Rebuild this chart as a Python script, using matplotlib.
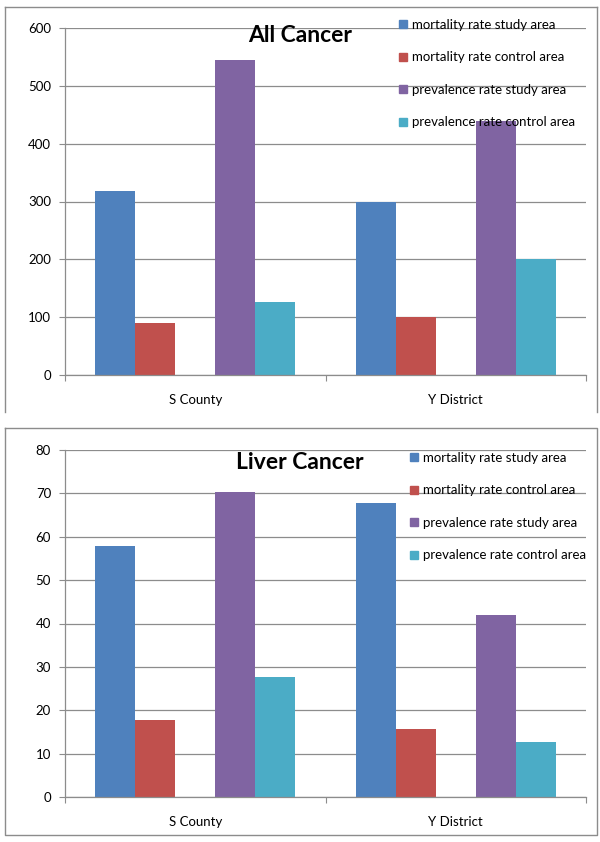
import numpy as np
import matplotlib.pyplot as plt
from matplotlib.lines import Line2D

plt.rcParams['font.family'] = ['Lato', 'DejaVu Sans']

categories = ["S County", "Y District"]
series = ["mortality rate study area", "mortality rate control area",
          "prevalence rate study area", "prevalence rate control area"]
colors = ["#4F81BD", "#C0504D", "#8064A2", "#4BACC6"]

all_cancer = [[318, 300], [90, 100], [544, 440], [127, 200]]
liver_cancer = [[57.8, 67.8], [17.7, 15.6], [70.3, 41.9], [27.7, 12.7]]

W, H = 600, 842
fig = plt.figure(figsize=(6, 8.42), dpi=100)


def fx(px):
    return px / W


def fy(py):
    return 1 - py / H


def panel(rect, title, data, ymax, step, leg_x, leg_y0, title_y):
    l, t, r, b = rect
    ax = fig.add_axes([fx(l), fy(b), fx(r) - fx(l), fy(t) - fy(b)])
    w = 40 / 260
    offsets = [-2, -1, 1, 2]
    x = np.arange(len(categories))
    for vals, off, c, lab in zip(data, offsets, colors, series):
        ax.bar(x + off * w, vals, width=w, color=c, label=lab, zorder=2)
    ax.set_xlim(-0.5, 1.5)
    ax.set_ylim(0, ymax)
    ax.set_yticks(np.arange(0, ymax + 1, step))
    ax.yaxis.grid(True, color="#8c8c8c", lw=0.9, zorder=0)
    ax.set_axisbelow(True)
    for s in ["top", "right"]:
        ax.spines[s].set_visible(False)
    for s in ["left", "bottom"]:
        ax.spines[s].set_color("#8c8c8c")
        ax.spines[s].set_linewidth(0.9)
    ax.set_xticks([-0.5, 0.5, 1.5])
    ax.set_xticklabels([])
    ax.set_xticks(x, minor=True)
    ax.set_xticklabels(categories, minor=True)
    ax.tick_params(axis="x", which="major", length=4, color="#8c8c8c", direction="out")
    ax.tick_params(axis="x", which="minor", length=0, pad=14, labelsize=9.5)
    ax.tick_params(axis="y", length=4, color="#8c8c8c", labelsize=9.5, pad=6)
    fig.text(0.5, fy(title_y), title, ha="center", va="center",
             fontsize=16.5, fontweight="bold")
    handles = [Line2D([], [], marker="s", ls="none", color=c, markersize=6)
               for c in colors]
    fig.legend(handles, series, loc="upper left",
               bbox_to_anchor=(fx(leg_x), fy(leg_y0)), frameon=False,
               fontsize=9.5, labelspacing=1.55, handlelength=0.6,
               handletextpad=0.4, borderpad=0, borderaxespad=0)
    return ax


panel((65, 28, 586, 375), "All Cancer", all_cancer, 600, 100, 399, 19, 35)
panel((65, 450, 586, 797), "Liver Cancer", liver_cancer, 80, 10, 410, 452, 462)

# panel borders
border = dict(color="#8c8c8c", lw=1.0)
fig.add_artist(Line2D([fx(5), fx(5)], [fy(7), fy(412)], **border))
fig.add_artist(Line2D([fx(5), fx(597)], [fy(7), fy(7)], **border))
fig.add_artist(Line2D([fx(597), fx(597)], [fy(7), fy(412)], **border))
fig.add_artist(Line2D([fx(5), fx(597), fx(597), fx(5), fx(5)],
                      [fy(428), fy(428), fy(835), fy(835), fy(428)], **border))

fig.savefig("out.png", dpi=100)
